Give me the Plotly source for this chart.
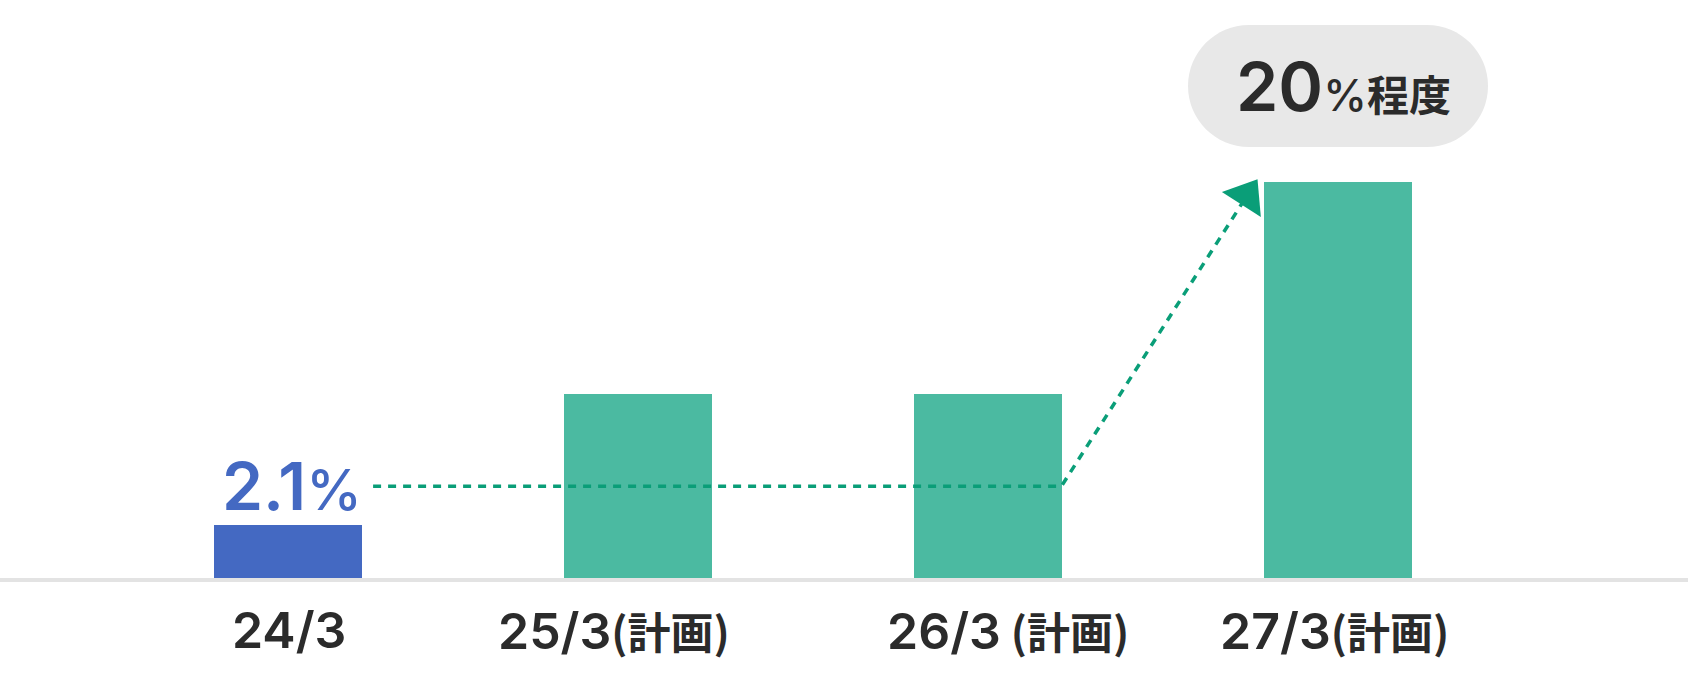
import math
import plotly.graph_objects as go

# 数据
categories = ["24/3", "25/3", "26/3", "27/3"]
suffixes = ["", "(計画)", " (計画)", "(計画)"]
values = [2.1, 7.3, 7.3, 15.7]
bar_colors = ["#4469c2", "#4bbaa1", "#4bbaa1", "#4bbaa1"]
actual_label = "2.1"
target_label = "20"
target_suffix = "程度"

# ラベルの横ずれ（元の図に合わせる, px）
label_shift = [1, -24, 20, -4]

W, H = 1688, 681
MB = 103
X_RANGE = [-0.823, 4.0]
Y_RANGE = [0, 22.9]
px_x = W / (X_RANGE[1] - X_RANGE[0])
px_y = (H - MB) / (Y_RANGE[1] - Y_RANGE[0])

FONT = "Inter, Noto Sans CJK JP"
CJK = "Noto Sans CJK JP"
GREEN = "#0a9e78"
DARK = "#2b2b2b"

xs = list(range(len(categories)))

fig = go.Figure()
fig.add_trace(go.Bar(
    x=xs, y=values, width=0.423,
    marker=dict(color=bar_colors, line=dict(width=0)),
    hoverinfo="skip",
))

# 点線の矢印（24/3 の水準 → 27/3）
level = 3.64
path_x = [0.243, 2.21, 2.77]
path_y = [level, level, 15.8]
dxp = (path_x[2] - path_x[1]) * px_x
dyp = (path_y[2] - path_y[1]) * px_y
ang = math.atan2(dxp, dyp)
head = 40
cx = path_x[2] - (head / 2) * math.sin(ang) / px_x
cy = path_y[2] - (head / 2) * math.cos(ang) / px_y

fig.add_trace(go.Scatter(
    x=path_x[:2] + [cx], y=path_y[:2] + [cy], mode="lines",
    line=dict(color=GREEN, width=3.5, dash="8px,7px"),
    hoverinfo="skip",
))
fig.add_trace(go.Scatter(
    x=[cx], y=[cy], mode="markers",
    marker=dict(symbol="triangle-up", size=head, color=GREEN,
                angle=math.degrees(ang), line=dict(width=0)),
    hoverinfo="skip",
))

# 目標のピル
k = 0.5523
r, hw = 61, 150
s = hw - r
pill = (f"M {-s},{r} L {s},{r} C {s + k*r},{r} {hw},{k*r} {hw},0 "
        f"C {hw},{-k*r} {s + k*r},{-r} {s},{-r} L {-s},{-r} "
        f"C {-s - k*r},{-r} {-hw},{-k*r} {-hw},0 "
        f"C {-hw},{k*r} {-s - k*r},{r} {-s},{r} Z")
pill_y = 19.49
fig.add_shape(type="path", xref="x", yref="y", xsizemode="pixel", ysizemode="pixel",
              xanchor=xs[3], yanchor=pill_y, path=pill,
              fillcolor="#e8e8e8", line=dict(width=0), layer="below")

fig.add_annotation(
    x=xs[3] + 0.017, y=pill_y, xref="x", yref="y", showarrow=False,
    text=(f"{target_label}<span style='font-size:44px;font-weight:500'>%</span>"
          f"<span style='font-size:42px;font-family:{CJK};font-weight:700'>{target_suffix}</span>"),
    font=dict(family=FONT, size=68, color=DARK, weight=600),
)
fig.add_annotation(
    x=xs[0] + 0.01, y=level, xref="x", yref="y", showarrow=False, yanchor="middle",
    text=f"{actual_label}<span style='font-size:56px;font-weight:500'>%</span>",
    font=dict(family=FONT, size=66, color="#4469c2", weight=600),
)

# 横軸ラベル
for x, c, sfx, dx in zip(xs, categories, suffixes, label_shift):
    fig.add_annotation(
        x=x, y=0, xref="x", yref="paper", showarrow=False,
        xshift=dx, yshift=-52, yanchor="middle",
        text=f"{c}<span style='font-size:43px;font-family:{CJK}'>{sfx}</span>",
        font=dict(family=FONT, size=50, color=DARK, weight=600),
    )

fig.update_layout(
    width=W, height=H,
    margin=dict(l=0, r=0, t=0, b=MB),
    plot_bgcolor="white", paper_bgcolor="white",
    showlegend=False, bargap=0,
    font=dict(family=FONT, color=DARK),
)
fig.update_xaxes(
    range=X_RANGE, showticklabels=False,
    showgrid=False, zeroline=False, showline=True, linecolor="#e3e3e3", linewidth=4,
    ticks="", fixedrange=True,
)
fig.update_yaxes(range=Y_RANGE, visible=False, showgrid=False, zeroline=False, fixedrange=True)

fig.write_html("out.html", config={"displayModeBar": False},
               post_script="document.body.style.margin='0';document.body.style.overflow='hidden';")
